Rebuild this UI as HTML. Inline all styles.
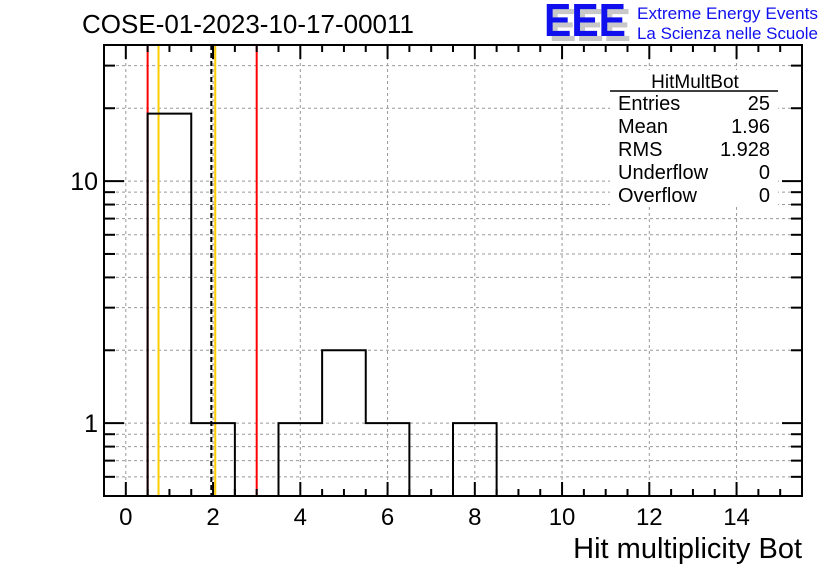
<!DOCTYPE html>
<html><head><meta charset="utf-8"><style>
body{margin:0;background:#fff;}
svg text{font-family:"Liberation Sans",Arial,sans-serif;}
</style></head><body>
<svg id="chart" width="836" height="572" viewBox="0 0 836 572" xmlns="http://www.w3.org/2000/svg">
<rect x="0" y="0" width="836" height="572" fill="#fff"/>
<g id="grid"></g>
<g id="lines"></g>
<g id="hist"></g>
<g id="axes"></g>
<rect x="610" y="70" width="168" height="137" fill="#fff"/>
<g font-size="20" fill="#000">
<text x="695" y="88" text-anchor="middle" font-size="19">HitMultBot</text>
<line x1="610" y1="91" x2="778" y2="91" stroke="#000" stroke-width="1.5"/>
<text x="618" y="110">Entries</text><text x="770" y="110" text-anchor="end">25</text>
<text x="618" y="133">Mean</text><text x="770" y="133" text-anchor="end">1.96</text>
<text x="618" y="156">RMS</text><text x="770" y="156" text-anchor="end">1.928</text>
<text x="618" y="179">Underflow</text><text x="770" y="179" text-anchor="end">0</text>
<text x="618" y="202">Overflow</text><text x="770" y="202" text-anchor="end">0</text>
</g>
<text x="82" y="33" font-size="26" textLength="332" lengthAdjust="spacingAndGlyphs">COSE-01-2023-10-17-00011</text>
<g>
<text x="549" y="41" font-size="46" font-weight="bold" fill="#c8c8c8" textLength="82" lengthAdjust="spacingAndGlyphs">EEE</text>
<text x="544" y="36" font-size="46" font-weight="bold" fill="#1010ee" textLength="82" lengthAdjust="spacingAndGlyphs">EEE</text>
<text x="637" y="19" font-size="17" fill="#1010ee" textLength="181" lengthAdjust="spacingAndGlyphs">Extreme Energy Events</text>
<text x="637" y="39" font-size="17" fill="#1010ee" textLength="181" lengthAdjust="spacingAndGlyphs">La Scienza nelle Scuole</text>
</g>
<text x="802" y="558" font-size="29" text-anchor="end">Hit multiplicity Bot</text>
</svg>
<script>
const binCenters=[0,1,2,3,4,5,6,7,8,9,10,11,12,13,14,15];
const binCounts=[0,19,1,0,1,2,1,0,1,0,0,0,0,0,0,0];
const xTickLabels=[0,2,4,6,8,10,12,14];
const yTickLabels=[1,10];
const yGridValues=[0.6,0.7,0.8,0.9,1,2,3,4,5,6,7,8,9,10,20,30];
const markerValues=[0.5,3.0];
const markerValues2=[0.75,2.05];
const meanValue=[1.96];
const L=104,R=802,T=45,B=496,XMIN=-0.5,XMAX=15.5,YMIN=Math.log10(0.5),YMAX=Math.log10(36.5);
const X=v=>L+(v-XMIN)/(XMAX-XMIN)*(R-L);
const Y=v=>B-(Math.log10(v)-YMIN)/(YMAX-YMIN)*(B-T);
const NS="http://www.w3.org/2000/svg";
function mk(parent,tag,attrs){const e=document.createElementNS(NS,tag);for(const k in attrs)e.setAttribute(k,attrs[k]);parent.appendChild(e);return e;}
const grid=document.getElementById('grid'),axes=document.getElementById('axes'),hist=document.getElementById('hist'),lines=document.getElementById('lines');
xTickLabels.forEach(v=>{const g=mk(grid,'line',{x1:X(v),x2:X(v),y1:T,y2:B,stroke:'#999','stroke-dasharray':'3,3','stroke-width':1});

});
yGridValues.forEach(v=>{const g=mk(grid,'line',{x1:L,x2:R,y1:Y(v),y2:Y(v),stroke:'#999','stroke-dasharray':'3,3','stroke-width':1});

});
markerValues.forEach(v=>{const l=mk(lines,'line',{x1:X(v),x2:X(v),y1:T,y2:B,stroke:'#f00','stroke-width':2});

});
markerValues2.forEach(v=>{const l=mk(lines,'line',{x1:X(v),x2:X(v),y1:T,y2:B,stroke:'#ffcc00','stroke-width':2});

});
meanValue.forEach(v=>{const l=mk(lines,'line',{x1:X(v),x2:X(v),y1:T,y2:B,stroke:'#000','stroke-width':2,'stroke-dasharray':'5,3'});

});
let d='',prev=null;
binCenters.forEach((c,i)=>{const v=binCounts[i];const y=v>0?Y(v):B;const x0=X(c-0.5),x1=X(c+0.5);
if(prev===null)d+=`M${x0},${y}`;else d+=`L${x0},${y}`;d+=`L${x1},${y}`;prev=y;});
const p=mk(hist,'path',{d:d,fill:'none',stroke:'#000','stroke-width':2});


const fr=mk(axes,'rect',{x:L,y:T,width:R-L,height:B-T,fill:'none',stroke:'#000','stroke-width':2});


for(let v=0;v<=15.5;v+=0.5){const maj=v%2===0,len=maj?14:7;
mk(axes,'line',{x1:X(v),x2:X(v),y1:B,y2:B-len,stroke:'#000','stroke-width':2});
mk(axes,'line',{x1:X(v),x2:X(v),y1:T,y2:T+len,stroke:'#000','stroke-width':2});}
xTickLabels.forEach(v=>{const t=mk(axes,'text',{x:X(v),y:525,'font-size':24,'text-anchor':'middle'});t.textContent=v;

});
yGridValues.forEach(v=>{const maj=yTickLabels.includes(v),len=maj?20:11;
mk(axes,'line',{x1:L,x2:L+len,y1:Y(v),y2:Y(v),stroke:'#000','stroke-width':2});
mk(axes,'line',{x1:R,x2:R-len,y1:Y(v),y2:Y(v),stroke:'#000','stroke-width':2});});
yTickLabels.forEach(v=>{const t=mk(axes,'text',{x:98,y:Y(v)+9,'font-size':25,'text-anchor':'end'});t.textContent=v;

});
</script>
</body></html>
